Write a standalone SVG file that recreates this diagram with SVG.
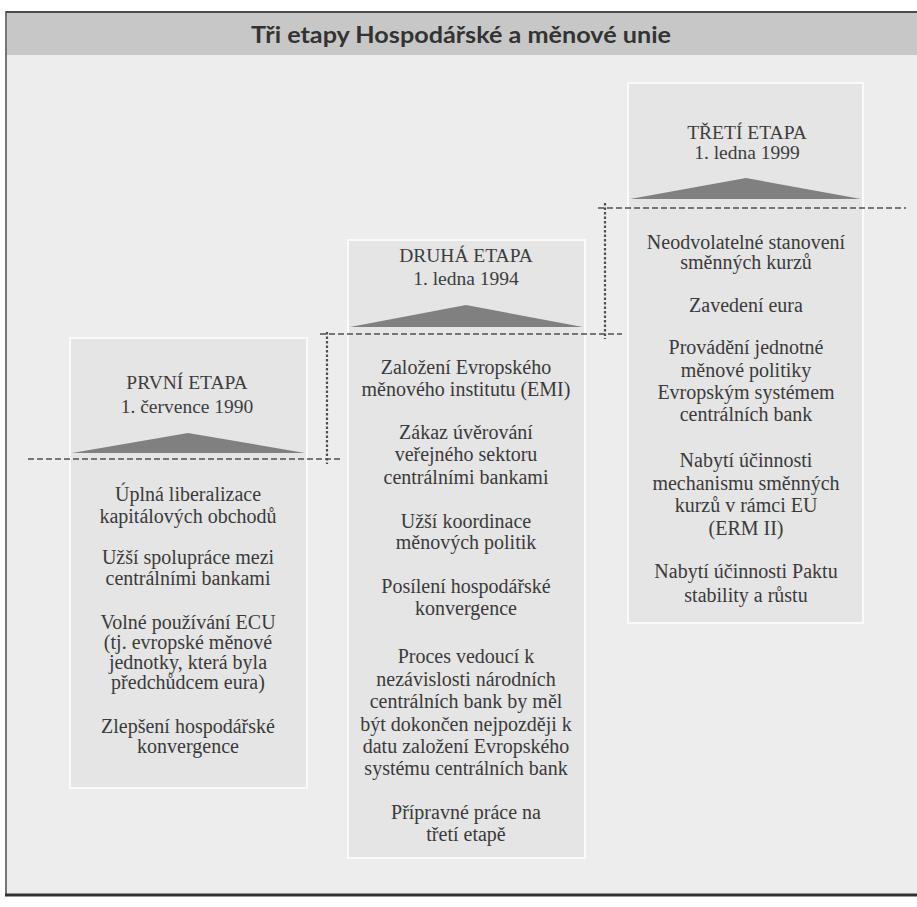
<svg xmlns="http://www.w3.org/2000/svg" width="917" height="907" viewBox="0 0 917 907">
<style>
.box{fill:#e5e5e5;stroke:#fafafa;stroke-width:2}
.tri{fill:#808080}
.hd{font-family:"Liberation Serif",serif;font-size:19.5px;fill:#3d3d3d;text-anchor:middle}
.tx{font-family:"Liberation Serif",serif;font-size:20px;fill:#3a3a3a;text-anchor:middle}
.dh{stroke:#505050;stroke-width:1.6;stroke-dasharray:6 3;fill:none}
.dv{stroke:#505050;stroke-width:2.2;stroke-dasharray:2.5 2;fill:none}
</style>
<rect x="0" y="0" width="917" height="907" fill="#ffffff"/>
<rect x="6" y="12" width="915" height="883" fill="#ededed"/>
<rect x="7" y="13" width="914" height="42" fill="#c7c7c7"/>
<line x1="6" y1="12" x2="917" y2="12" stroke="#4a4a4a" stroke-width="2"/>
<line x1="6" y1="11" x2="6" y2="896" stroke="#555" stroke-width="1.6"/>
<line x1="5" y1="895" x2="917" y2="895" stroke="#333" stroke-width="3"/>
<text x="461" y="43" font-family="Lato, 'Liberation Sans', sans-serif" font-weight="bold" font-size="23px" fill="#333333" text-anchor="middle" textLength="420" lengthAdjust="spacingAndGlyphs">Tři etapy Hospodářské a měnové unie</text>

<g id="etapa1">
<rect class="box" x="70" y="338" width="237" height="450"/>
<polygon class="tri" points="72,453 188,433 305,453"/>
<text class="hd" x="187" y="389">PRVNÍ ETAPA</text>
<text class="hd" x="187" y="413">1. července 1990</text>
<text class="tx" x="188" y="501">Úplná liberalizace</text>
<text class="tx" x="188" y="523">kapitálových obchodů</text>
<text class="tx" x="188" y="564">Užší spolupráce mezi</text>
<text class="tx" x="188" y="585">centrálními bankami</text>
<text class="tx" x="188" y="629">Volné používání ECU</text>
<text class="tx" x="188" y="649">(tj. evropské měnové</text>
<text class="tx" x="188" y="669">jednotky, která byla</text>
<text class="tx" x="188" y="689">předchůdcem eura)</text>
<text class="tx" x="188" y="733">Zlepšení hospodářské</text>
<text class="tx" x="188" y="753">konvergence</text>
</g>

<g id="etapa2">
<rect class="box" x="348" y="240" width="237" height="618"/>
<polygon class="tri" points="350,327 466,305 583,327"/>
<text class="hd" x="466" y="262">DRUHÁ ETAPA</text>
<text class="hd" x="466" y="285">1. ledna 1994</text>
<text class="tx" x="466" y="374">Založení Evropského</text>
<text class="tx" x="466" y="396">měnového institutu (EMI)</text>
<text class="tx" x="466" y="439">Zákaz úvěrování</text>
<text class="tx" x="466" y="461">veřejného sektoru</text>
<text class="tx" x="466" y="484">centrálními bankami</text>
<text class="tx" x="466" y="528">Užší koordinace</text>
<text class="tx" x="466" y="549">měnových politik</text>
<text class="tx" x="466" y="593">Posílení hospodářské</text>
<text class="tx" x="466" y="615">konvergence</text>
<text class="tx" x="466" y="663">Proces vedoucí k</text>
<text class="tx" x="466" y="686">nezávislosti národních</text>
<text class="tx" x="466" y="708">centrálních bank by měl</text>
<text class="tx" x="466" y="731">být dokončen nejpozději k</text>
<text class="tx" x="466" y="753">datu založení Evropského</text>
<text class="tx" x="466" y="775">systému centrálních bank</text>
<text class="tx" x="466" y="819">Přípravné práce na</text>
<text class="tx" x="466" y="841">třetí etapě</text>
</g>

<g id="etapa3">
<rect class="box" x="628" y="83" width="235" height="540"/>
<polygon class="tri" points="630,199 746,178 861,199"/>
<text class="hd" x="747" y="139">TŘETÍ ETAPA</text>
<text class="hd" x="747" y="159">1. ledna 1999</text>
<text class="tx" x="746" y="249">Neodvolatelné stanovení</text>
<text class="tx" x="746" y="269">směnných kurzů</text>
<text class="tx" x="746" y="312">Zavedení eura</text>
<text class="tx" x="746" y="354">Provádění jednotné</text>
<text class="tx" x="746" y="377">měnové politiky</text>
<text class="tx" x="746" y="399">Evropským systémem</text>
<text class="tx" x="746" y="421">centrálních bank</text>
<text class="tx" x="746" y="467">Nabytí účinnosti</text>
<text class="tx" x="746" y="490">mechanismu směnných</text>
<text class="tx" x="746" y="512">kurzů v rámci EU</text>
<text class="tx" x="746" y="535">(ERM II)</text>
<text class="tx" x="746" y="578">Nabytí účinnosti Paktu</text>
<text class="tx" x="746" y="602">stability a růstu</text>
</g>

<g id="connectors">
<line class="dh" x1="28" y1="459" x2="342" y2="459"/>
<line class="dv" x1="327" y1="332" x2="327" y2="464"/>
<line class="dh" x1="320" y1="334" x2="622" y2="334"/>
<line class="dv" x1="605" y1="203" x2="605" y2="339"/>
<line class="dh" x1="598" y1="208" x2="906" y2="208"/>
</g>
</svg>
